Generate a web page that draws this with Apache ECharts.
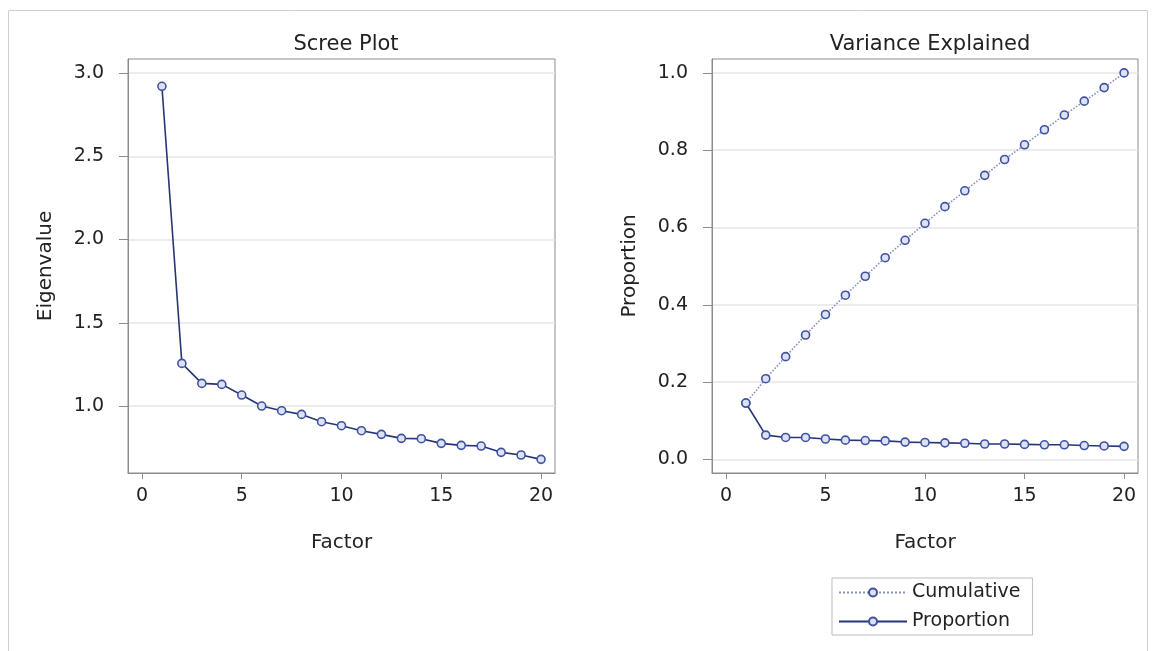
<!DOCTYPE html>
<html>
<head>
<meta charset="utf-8">
<script src="https://cdn.jsdelivr.net/npm/echarts@6/dist/echarts.min.js"></script>
<style>
html,body{margin:0;padding:0;background:#fff;}
#chart{width:1152px;height:651px;}
</style>
</head>
<body>
<div id="chart"></div>
<script>
const factors = [1,2,3,4,5,6,7,8,9,10,11,12,13,14,15,16,17,18,19,20];
const eigenvalues = [2.92,1.256,1.136,1.13,1.066,1.0,0.972,0.95,0.906,0.882,0.852,0.83,0.806,0.804,0.776,0.764,0.76,0.722,0.706,0.68];
const proportion = [0.146,0.063,0.057,0.057,0.053,0.050,0.049,0.048,0.045,0.044,0.043,0.042,0.040,0.040,0.039,0.038,0.038,0.036,0.035,0.034];
const cumulative = [0.146,0.209,0.266,0.322,0.375,0.425,0.474,0.522,0.567,0.611,0.654,0.695,0.735,0.776,0.814,0.853,0.891,0.927,0.962,1.0];
const xTicks = [0,5,10,15,20];
const eigenTicks = [1.0,1.5,2.0,2.5,3.0];
const propTicks = [0.0,0.2,0.4,0.6,0.8,1.0];

const FONT = 'DejaVu Sans';
const TXT = '#222';
const FRAME = '#8c8c8c';
const GRIDC = '#e6e6e6';
const LINE = '#263573';
const MARK = '#3f51a0';
const MFILL = '#dde2f2';

function pairs(xs, ys){ return xs.map((x,i)=>[x, ys[i]]); }

function xAxisDef(gi){
  return {
    type:'value', gridIndex:gi, min:-0.7, max:20.7,
    name:'Factor', nameLocation:'middle', nameGap:60,
    nameTextStyle:{fontFamily:FONT, fontSize:20, color:TXT},
    axisLine:{show:true, onZero:false, lineStyle:{color:FRAME}},
    axisTick:{show:true, length:6, lineStyle:{color:FRAME}, customValues:xTicks},
    axisLabel:{fontFamily:FONT, fontSize:19, color:TXT, margin:14, customValues:xTicks},
    splitLine:{show:false}
  };
}
function yAxisDef(gi, name, mn, mx, ticks, dec){
  return {
    type:'value', gridIndex:gi, min:mn, max:mx,
    name:name, nameLocation:'middle', nameGap:72, nameRotate:90,
    nameTextStyle:{fontFamily:FONT, fontSize:20, color:TXT},
    axisLine:{show:true, onZero:false, lineStyle:{color:FRAME}},
    axisTick:{show:true, length:9, lineStyle:{color:FRAME}, customValues:ticks},
    axisLabel:{fontFamily:FONT, fontSize:19, color:TXT, margin:24, customValues:ticks,
      formatter:v=>Number(v).toFixed(dec)},
    splitLine:{show:true, lineStyle:{color:GRIDC, width:1.5}}
  };
}

const chart = echarts.init(document.getElementById('chart'), null, {renderer:'canvas'});
chart.setOption({
  animation:false,
  backgroundColor:'#fff',
  title:[
    {text:'Scree Plot', left:341, top:29, textAlign:'center',
     textStyle:{fontFamily:FONT, fontSize:21, fontWeight:'normal', color:TXT}},
    {text:'Variance Explained', left:925, top:29, textAlign:'center',
     textStyle:{fontFamily:FONT, fontSize:21, fontWeight:'normal', color:TXT}}
  ],
  graphic:[
    {type:'rect', shape:{x:8.5, y:10.5, width:1139, height:660}, style:{fill:'none', stroke:'#cfcfcf', lineWidth:1}, silent:true, z:-10}
  ],
  grid:[
    {left:128, top:59, width:427, height:414, show:true, borderColor:FRAME, borderWidth:1, backgroundColor:'#fff'},
    {left:712, top:59, width:426, height:414, show:true, borderColor:FRAME, borderWidth:1, backgroundColor:'#fff'}
  ],
  xAxis:[xAxisDef(0), xAxisDef(1)],
  yAxis:[
    yAxisDef(0,'Eigenvalue',0.598,3.084,eigenTicks,1),
    yAxisDef(1,'Proportion',-0.035,1.036,propTicks,1)
  ],
  legend:{
    orient:'vertical', left:832, top:578,
    borderColor:'#bdbdbd', borderWidth:1, borderRadius:0,
    padding:[5,12,4,6], itemWidth:68, itemHeight:10, itemGap:10,
    textStyle:{fontFamily:FONT, fontSize:19, color:TXT},
    data:['Cumulative','Proportion']
  },
  series:[
    {type:'line', name:'Eigenvalue', xAxisIndex:0, yAxisIndex:0,
     data:pairs(factors, eigenvalues),
     symbol:'circle', symbolSize:8,
     itemStyle:{color:MFILL, borderColor:MARK, borderWidth:1.6},
     lineStyle:{color:LINE, width:1.6}},
    {type:'line', name:'Cumulative', xAxisIndex:1, yAxisIndex:1,
     data:pairs(factors, cumulative),
     symbol:'circle', symbolSize:8,
     itemStyle:{color:MFILL, borderColor:MARK, borderWidth:1.6},
     lineStyle:{color:'#8793bd', width:1.6, type:'dotted'}},
    {type:'line', name:'Proportion', xAxisIndex:1, yAxisIndex:1,
     data:pairs(factors, proportion),
     symbol:'circle', symbolSize:8,
     itemStyle:{color:MFILL, borderColor:MARK, borderWidth:1.6},
     lineStyle:{color:LINE, width:1.6}}
  ]
});
</script>
</body>
</html>
